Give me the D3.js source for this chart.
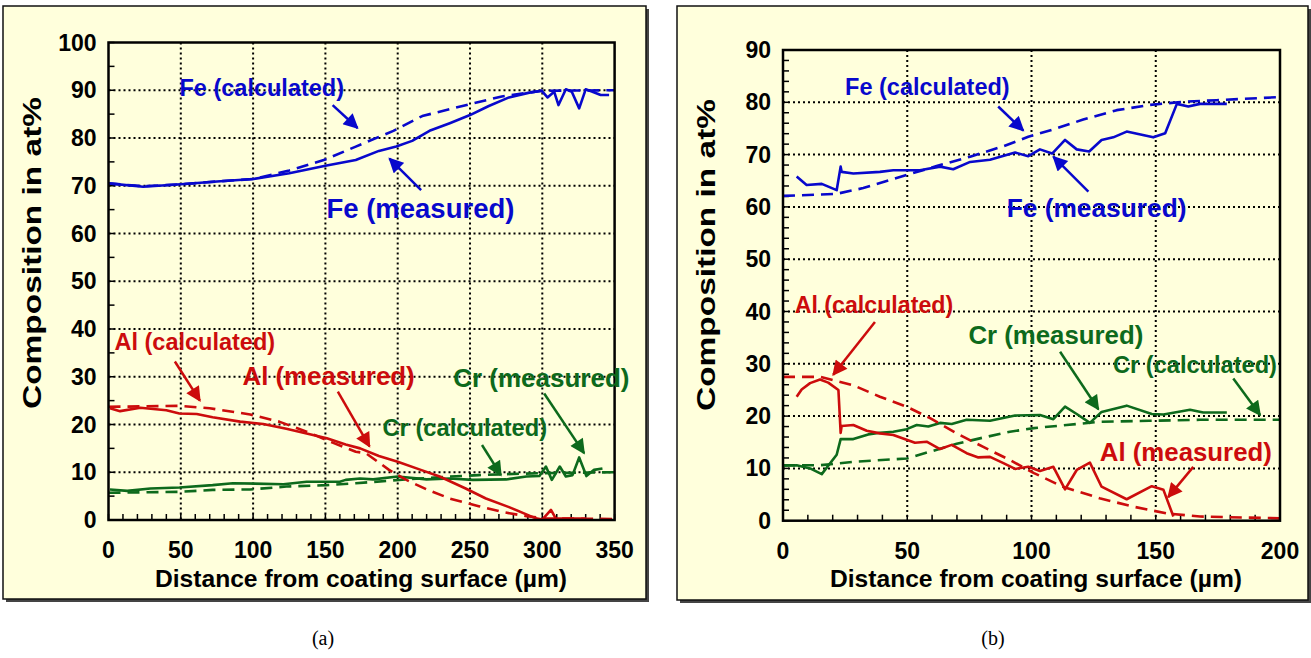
<!DOCTYPE html>
<html>
<head>
<meta charset="utf-8">
<script src="https://cdn.jsdelivr.net/npm/d3@7.9.0/dist/d3.min.js"></script>
<style>
  body { margin: 0; background: #fff; }
  svg { display: block; }
  text { font-family: "Liberation Sans", Arial, sans-serif; font-weight: bold; }
</style>
</head>
<body>
<svg id="chart" width="1311" height="658"></svg>
<script>
// ---- data, panel (a) ----
const feMeasuredA = [[0,70.5],[24,69.8],[50,70.3],[75,70.9],[100,71.4],[125,72.6],[150,74.2],[171,75.4],[187,77.3],[199,78.2],[210,79.4],[222,81.5],[236,83.1],[250,84.8],[263,86.7],[277,88.5],[291,89.5],[299.5,89.9],[303.6,88.5],[308.2,89.7],[311.2,86.9],[316.3,90.2],[320.4,89.7],[325.5,86.2],[330,90.2],[334.7,89.7],[340.4,89],[346.2,89]];
const feCalculatedA = [[0,70.5],[24,69.9],[50,70.3],[75,70.9],[100,71.4],[125,73.2],[150,75.5],[171,78.2],[197,81.5],[217,84.6],[250,87.1],[272,88.7],[300,89.9],[350,90]];
const alMeasuredA = [[1,23.4],[8,22.8],[22,23.5],[40,23],[49,22.3],[61,22.2],[72,21.5],[91,20.6],[107,20.1],[123,19.1],[137,18.1],[151,17.1],[164,15.8],[174,15],[187,13.4],[200,12.2],[215,10.6],[229,9.1],[247,6.6],[261,4.5],[277,2.7],[295.5,0.35],[300,0.1],[306,2.1],[309.4,0.3],[330,0.3]];
const alCalculatedA = [[0,23.7],[49,23.9],[70,23.4],[98,22.1],[118,20.6],[137,18.5],[155,16.2],[171,14.3],[178,14],[194,10.5],[206,8.4],[220,6.4],[236,4.5],[256,2.9],[272,1.7],[289,0.8],[302,0.35],[350,0.2]];
const crMeasuredA = [[1,6.4],[13,6.1],[29,6.6],[49,6.8],[72,7.3],[86,7.7],[121,7.5],[137,8],[160,8],[164,8.4],[174,8.7],[183,8.5],[200,9.1],[220,8.5],[236,8.7],[252,8.4],[275,8.5],[289,9.1],[298,9.2],[302.5,11.2],[306.6,8.4],[312.1,11.2],[316.3,9.1],[320.9,9.4],[325.5,13.1],[330.5,9.2],[335.8,10.5],[341.6,10.8]];
const crCalculatedA = [[0,5.7],[49,5.9],[72,6.3],[98,6.4],[123,7],[151,7.3],[171,7.7],[206,8.5],[236,9.1],[256,9.4],[275,9.6],[298,9.8],[350,10]];

// ---- data, panel (b) ----
const feMeasuredB = [[5.5,65.8],[9.5,64.2],[15.6,64.4],[21.6,63.2],[23.2,67.7],[23.6,66.7],[28.3,66.4],[39,66.7],[44.4,67],[55.1,67],[63.2,67.7],[68.5,67.2],[75.3,68.6],[83.3,69],[93.4,70.4],[98.7,69.7],[103.4,71],[108.3,70.2],[113.5,72.8],[118.2,71],[123.2,70.6],[128.2,72.8],[132.9,73.3],[138.3,74.4],[149,73.3],[153.8,74.1],[158.5,79.7],[163.1,79.2],[167.8,79.7],[178.6,79.7]];
const feCalculatedB = [[0,62.1],[21.6,62.5],[32.3,63.6],[49.8,66.1],[61.8,67.8],[75.3,69.6],[88.7,71.6],[98.7,73.4],[110,75],[120.8,76.7],[134.3,78.5],[147.7,79.5],[161.1,80.1],[174.5,80.4],[200,81]];
const alMeasuredB = [[5.5,23.7],[7.5,25.1],[10.9,26.3],[14.9,27],[18.2,26.4],[22.3,25],[23.2,16.8],[23.6,18.1],[28.3,18.3],[33.7,17.2],[39,16.7],[44.4,16.4],[53.1,14.9],[57.8,15.1],[63.2,13.7],[67.9,14.5],[73.9,12.9],[78.6,12.1],[83.3,12.2],[88.7,11],[93.4,9.9],[98.7,10.3],[103.4,9.5],[108.8,10.3],[113.5,6],[118.2,9.7],[123.5,11.1],[128.2,6.5],[138.3,4.1],[148.4,6.6],[153.1,5.9],[157.1,0.8]];
const alCalculatedB = [[0,27.5],[14.9,27.5],[28.3,25.9],[39,23.7],[49.8,21.8],[59.2,19.6],[69.9,16.7],[80.6,14.1],[91.3,11.6],[101,9.1],[112.6,6.5],[127.4,4.3],[140.8,2.7],[154.3,1.4],[167.8,0.8],[200,0.45]];
const crMeasuredB = [[0,10.5],[5.5,10.6],[10.9,10],[15.6,8.9],[21.6,12.6],[23.2,15.6],[28.3,15.6],[34.3,16.5],[39,16.8],[44.4,17],[49.8,17.5],[53.8,18.3],[58.5,18],[63.2,18.7],[67.9,18.5],[73.9,19.3],[83.3,19.1],[93.4,20.1],[103.4,20.2],[108.8,19.4],[113.5,21.8],[118.2,20.4],[123.5,18.7],[128.2,20.8],[138.3,22],[148.4,20.4],[153.1,20.3],[163.8,21.2],[169.1,20.7],[178.6,20.7]];
const crCalculatedB = [[0,10.6],[14.9,10.6],[29.6,11.3],[49.8,11.9],[59.2,13.2],[69.9,14.7],[80.6,15.9],[91.3,17],[101,17.7],[114.1,18.3],[127.4,18.9],[147.3,19.1],[167.8,19.3],[200,19.3]];

const xTicksA = [0, 50, 100, 150, 200, 250, 300, 350];
const yTicksA = [0, 10, 20, 30, 40, 50, 60, 70, 80, 90, 100];
const xTicksB = [0, 50, 100, 150, 200];
const yTicksB = [0, 10, 20, 30, 40, 50, 60, 70, 80, 90];

const BLUE = "#0808cc", RED = "#cc0c0c", GREEN = "#0d6a1c";

const svg = d3.select("#chart");
const defs = svg.append("defs");
[["blue", BLUE], ["red", RED], ["green", GREEN]].forEach(([id, c]) => {
  defs.append("marker")
    .attr("id", "head-" + id)
    .attr("viewBox", "0 0 10 10")
    .attr("refX", 9).attr("refY", 5)
    .attr("markerWidth", 6.5).attr("markerHeight", 6)
    .attr("markerUnits", "strokeWidth")
    .attr("orient", "auto")
    .append("path").attr("d", "M0,0 L10,5 L0,10 Z").attr("fill", c);
});

function drawPanel(p) {
  // frame with drop shadow
  svg.append("rect").attr("x", p.frame[0] + 3).attr("y", p.frame[1] + 3)
    .attr("width", p.frame[2]).attr("height", p.frame[3]).attr("fill", "#444");
  svg.append("rect").attr("x", p.frame[0]).attr("y", p.frame[1])
    .attr("width", p.frame[2]).attr("height", p.frame[3])
    .attr("fill", "#ffffdc").attr("stroke", "#111").attr("stroke-width", 1.5);

  const x = d3.scaleLinear().domain(p.xDomain).range([p.left, p.right]);
  const y = d3.scaleLinear().domain(p.yDomain).range([p.bottom, p.top]);
  const g = svg.append("g");

  // grid
  g.selectAll(".gx").data(p.xTicks.slice(1, -1)).join("line")
    .attr("x1", d => x(d)).attr("x2", d => x(d)).attr("y1", p.top).attr("y2", p.bottom)
    .attr("stroke", "#000").attr("stroke-width", 2).attr("stroke-dasharray", "2,3");
  g.selectAll(".gy").data(p.yTicks.slice(1, -1)).join("line")
    .attr("y1", d => y(d)).attr("y2", d => y(d)).attr("x1", p.left).attr("x2", p.right)
    .attr("stroke", "#000").attr("stroke-width", 2).attr("stroke-dasharray", "2,3");

  // minor + major ticks, pointing inward
  g.selectAll(".tx").data(d3.range(p.xDomain[0], p.xDomain[1] + 0.01, p.xMinor)).join("line")
    .attr("x1", d => x(d)).attr("x2", d => x(d)).attr("y1", p.bottom).attr("y2", p.bottom - 6)
    .attr("stroke", "#000").attr("stroke-width", 1.5);
  g.selectAll(".ty").data(d3.range(p.yDomain[0], p.yDomain[1] + 0.01, p.yMinor)).join("line")
    .attr("y1", d => y(d)).attr("y2", d => y(d)).attr("x1", p.left).attr("x2", p.left + 6)
    .attr("stroke", "#000").attr("stroke-width", 1.5);

  // series
  const line = d3.line().x(d => x(d[0])).y(d => y(d[1]));
  p.series.forEach(s => {
    g.append("path").attr("d", line(s.data)).attr("fill", "none")
      .attr("stroke", s.color).attr("stroke-width", 2.6)
      .attr("stroke-linejoin", "round")
      .attr("stroke-dasharray", s.dashed ? "12,7" : null);
  });

  // plot frame
  g.append("rect").attr("x", p.left).attr("y", p.top)
    .attr("width", p.right - p.left).attr("height", p.bottom - p.top)
    .attr("fill", "none").attr("stroke", "#000").attr("stroke-width", 2.5);

  // tick labels
  g.selectAll(".lx").data(p.xTicks).join("text")
    .attr("x", d => x(d)).attr("y", p.bottom + 30)
    .attr("text-anchor", "middle").attr("dominant-baseline", "central")
    .attr("font-size", 23).text(d => d);
  g.selectAll(".ly").data(p.yTicks).join("text")
    .attr("x", p.left - 12).attr("y", d => y(d))
    .attr("text-anchor", "end").attr("dominant-baseline", "central")
    .attr("font-size", 23).text(d => d);

  // axis titles
  g.append("text").attr("x", p.xTitle[0]).attr("y", p.xTitle[1])
    .attr("text-anchor", "middle").attr("dominant-baseline", "central")
    .attr("font-size", 24).attr("textLength", 412).attr("lengthAdjust", "spacingAndGlyphs")
    .text("Distance from coating surface (µm)");
  g.append("text")
    .attr("transform", `translate(${p.yTitle[0]},${p.yTitle[1]}) rotate(-90)`)
    .attr("text-anchor", "middle").attr("dominant-baseline", "central")
    .attr("font-size", 25).attr("textLength", 312).attr("lengthAdjust", "spacingAndGlyphs")
    .text("Composition in at%");

  // annotations
  p.notes.forEach(n => {
    g.append("text").attr("x", x(n.at[0])).attr("y", y(n.at[1]))
      .attr("text-anchor", "middle").attr("dominant-baseline", "central")
      .attr("font-size", n.size).attr("fill", n.color).text(n.text);
    g.append("line")
      .attr("x1", x(n.from[0])).attr("y1", y(n.from[1]))
      .attr("x2", x(n.to[0])).attr("y2", y(n.to[1]))
      .attr("stroke", n.color).attr("stroke-width", 2.5)
      .attr("marker-end", `url(#head-${n.head})`);
  });

  svg.append("text").attr("x", p.caption[0]).attr("y", p.caption[1])
    .attr("text-anchor", "middle").attr("dominant-baseline", "central")
    .style("font-family", "'Liberation Serif', 'Times New Roman', serif")
    .style("font-weight", "normal").attr("font-size", 20).text(p.captionText);
}

drawPanel({
  frame: [3, 6, 643, 593],
  left: 108.5, right: 614.6, top: 42.5, bottom: 520,
  xDomain: [0, 350], yDomain: [0, 100], xMinor: 10, yMinor: 5,
  xTicks: xTicksA, yTicks: yTicksA, yTitle: [32, 253], xTitle: [361, 578],
  caption: [323, 638], captionText: "(a)",
  series: [
    { data: feCalculatedA, color: BLUE, dashed: true },
    { data: feMeasuredA, color: BLUE },
    { data: crCalculatedA, color: GREEN, dashed: true },
    { data: crMeasuredA, color: GREEN },
    { data: alCalculatedA, color: RED, dashed: true },
    { data: alMeasuredA, color: RED }
  ],
  notes: [
    { text: "Fe (calculated)", at: [106, 90.5], from: [155, 86.9], to: [172.2, 82.1], color: BLUE, head: "blue", size: 23.5 },
    { text: "Fe (measured)", at: [215.7, 65.3], from: [216.2, 69.1], to: [194.3, 75.7], color: BLUE, head: "blue", size: 27.5 },
    { text: "Al (calculated)", at: [59.7, 37.3], from: [45.9, 33.2], to: [63.2, 25], color: RED, head: "red", size: 23.5 },
    { text: "Al (measured)", at: [152.2, 30.1], from: [158.6, 26.9], to: [180.5, 15.4], color: RED, head: "red", size: 25.8 },
    { text: "Cr (measured)", at: [299.3, 29.7], from: [301.3, 26.5], to: [328.9, 14], color: GREEN, head: "green", size: 26 },
    { text: "Cr (calculated)", at: [246.4, 19.2], from: [258.3, 15.7], to: [271.4, 9.4], color: GREEN, head: "green", size: 23.7 }
  ]
});

drawPanel({
  frame: [677, 6, 631, 594],
  left: 783, right: 1280, top: 50, bottom: 520.7,
  xDomain: [0, 200], yDomain: [0, 90], xMinor: 10, yMinor: 2,
  xTicks: xTicksB, yTicks: yTicksB, yTitle: [706, 255], xTitle: [1036, 578],
  caption: [993, 638], captionText: "(b)",
  series: [
    { data: feCalculatedB, color: BLUE, dashed: true },
    { data: feMeasuredB, color: BLUE },
    { data: crCalculatedB, color: GREEN, dashed: true },
    { data: crMeasuredB, color: GREEN },
    { data: alCalculatedB, color: RED, dashed: true },
    { data: alMeasuredB, color: RED }
  ],
  notes: [
    { text: "Fe (calculated)", at: [58.1, 83], from: [86.6, 79.2], to: [96.7, 74.6], color: BLUE, head: "blue", size: 23.5 },
    { text: "Fe (measured)", at: [126.2, 59.7], from: [122.9, 62.9], to: [108.8, 69.6], color: BLUE, head: "blue", size: 26.3 },
    { text: "Al (calculated)", at: [36.6, 41.2], from: [37, 38], to: [20.2, 27.9], color: RED, head: "red", size: 23.2 },
    { text: "Cr (measured)", at: [109.8, 35.5], from: [111.5, 32.3], to: [126.9, 21.3], color: GREEN, head: "green", size: 25.8 },
    { text: "Cr (calculated)", at: [165.8, 29.8], from: [181.2, 27.2], to: [192, 20.2], color: GREEN, head: "green", size: 23.6 },
    { text: "Al (measured)", at: [162.1, 13.2], from: [165.1, 10.3], to: [155, 4.5], color: RED, head: "red", size: 25.8 }
  ]
});
</script>
</body>
</html>
